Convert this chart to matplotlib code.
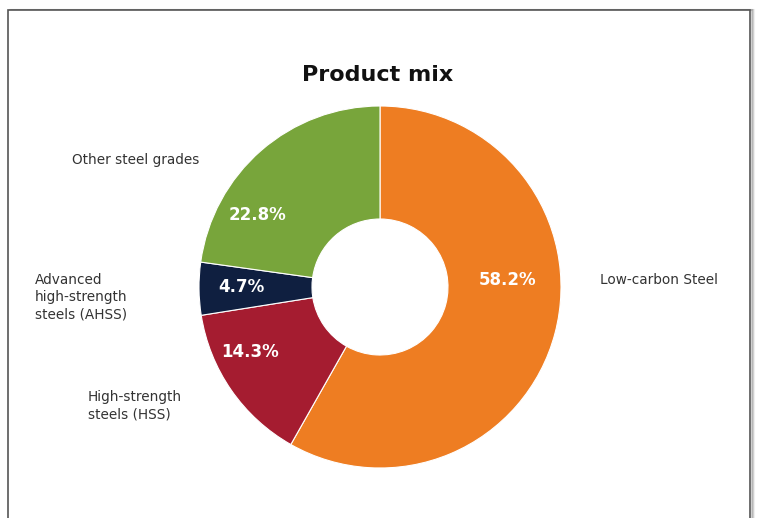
import matplotlib
matplotlib.use('Agg')
import matplotlib.pyplot as plt
from matplotlib.patches import Rectangle

# data
categories = ['Low-carbon Steel', 'High-strength\nsteels (HSS)',
              'Advanced\nhigh-strength\nsteels (AHSS)', 'Other steel grades']
shares = [58.2, 14.3, 4.7, 22.8]
colors = ['#EE7D22', '#A51C30', '#0F1F40', '#78A53B']

W, H = 757, 518
fig = plt.figure(figsize=(W / 100, H / 100), dpi=100)
fig.patch.set_facecolor('white')

# frame with a soft shadow on the right
px = lambda x, y: (x / W, 1 - y / H)
for i, a in enumerate([0.18, 0.12, 0.06]):
    fig.patches.append(Rectangle(px(9 + i + 1, 530), 742 / W, 520 / H,
                                 transform=fig.transFigure, facecolor='none',
                                 edgecolor='#000000', alpha=a, lw=1.5, zorder=-2))
fig.patches.append(Rectangle(px(8, 530), 742 / W, 520 / H, transform=fig.transFigure,
                             facecolor='white', edgecolor='#555555', lw=1.2, zorder=-1))

# donut
cx, cy, r = 380, 287, 181
ax = fig.add_axes([(cx - r) / W, (H - cy - r) / H, 2 * r / W, 2 * r / H])
ax.pie(shares, colors=colors, startangle=90, counterclock=False, radius=1,
       wedgeprops=dict(width=1 - 68 / 181, edgecolor='white', linewidth=0.8))
ax.set_xlim(-1, 1)
ax.set_ylim(-1, 1)
ax.set_aspect('equal')
ax.axis('off')

fig.text(*px(378, 75), 'Product mix', ha='center', va='center',
         fontsize=16, fontweight='bold', color='#111111')

# percentage labels inside the ring
pct_pos = [(508, 280), (250, 352), (241, 287), (258, 215)]
for (x, y), v in zip(pct_pos, shares):
    fig.text(*px(x, y), f'{v}%', ha='center', va='center', fontsize=12,
             fontweight='bold', color='white')

# category labels
lab_pos = [(600, 280), (88, 406), (35, 297), (72, 160)]
for (x, y), name in zip(lab_pos, categories):
    fig.text(*px(x, y), name, ha='left', va='center', fontsize=9.8,
             color='#333333', linespacing=1.3)

fig.savefig('out.png', dpi=100)
